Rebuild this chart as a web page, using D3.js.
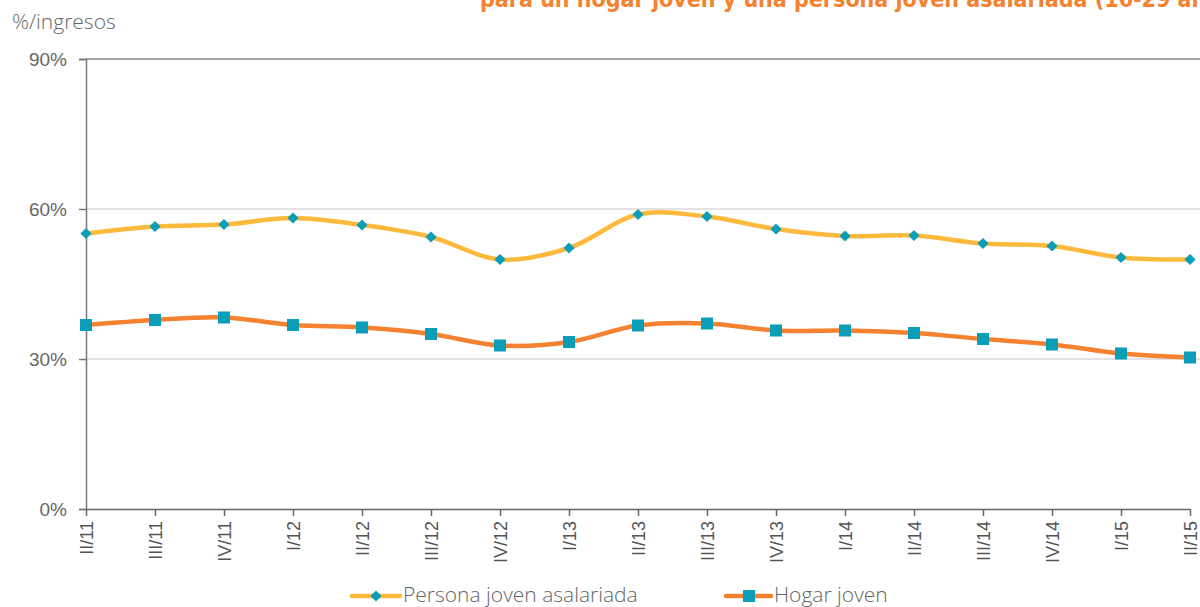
<!DOCTYPE html>
<html>
<head>
<meta charset="utf-8">
<script src="https://cdn.jsdelivr.net/npm/d3@7"></script>
<style>
  body { margin: 0; background: #fff; }
  svg { display: block; font-family: "Open Sans", "DejaVu Sans", sans-serif; font-weight: 300; }
</style>
</head>
<body>
<svg id="chart" width="1200" height="607"></svg>
<script>
// quarters on the x axis
var quarters = ["II/11", "III/11", "IV/11", "I/12", "II/12", "III/12", "IV/12", "I/13",
                "II/13", "III/13", "IV/13", "I/14", "II/14", "III/14", "IV/14", "I/15", "II/15"];

// % of income
var personaJoven = [55.1, 56.5, 56.9, 58.2, 56.8, 54.4, 49.9, 52.2,
                    58.9, 58.5, 56.0, 54.6, 54.7, 53.1, 52.6, 50.3, 49.9];
var hogarJoven = [36.8, 37.8, 38.3, 36.8, 36.3, 35.0, 32.7, 33.4,
                  36.7, 37.1, 35.7, 35.7, 35.2, 34.0, 32.9, 31.1, 30.3];

var yTicks = [0, 30, 60, 90];

var svg = d3.select("#chart");

var x = d3.scalePoint().domain(quarters).range([86, 1190]);
var y = d3.scaleLinear().domain([0, 90]).range([509, 59]);

// title (second line only, the top is cut off)
svg.append("text")
    .attr("x", 480)
    .attr("y", 7)
    .attr("fill", "#F58230")
    .attr("font-family", "DejaVu Sans Condensed")
    .attr("font-weight", "bold")
    .attr("font-size", 23)
    .text("para un hogar joven y una persona joven asalariada (16-29 años)");

svg.append("text")
    .attr("x", 12)
    .attr("y", 29)
    .attr("fill", "#666")
    .attr("font-size", 21)
    .text("%/ingresos");

// gridlines
svg.append("g")
    .selectAll("line")
    .data(yTicks.filter(function(d) { return d > 0; }))
    .enter()
    .append("line")
    .attr("x1", 86)
    .attr("x2", 1200)
    .attr("y1", function(d) { return y(d); })
    .attr("y2", function(d) { return y(d); })
    .attr("stroke", function(d) { return d == 90 ? "#8a8a8a" : "#c8c8c8"; })
    .attr("stroke-width", function(d) { return d == 90 ? 1.5 : 1.2; });

// y axis
var yAxis = svg.append("g")
    .attr("transform", "translate(86,0)")
    .call(d3.axisLeft(y).tickValues(yTicks).tickSize(7).tickPadding(12)
        .tickFormat(function(d) { return d + "%"; }));
yAxis.select(".domain").attr("stroke", "#777").attr("stroke-width", 1.5);
yAxis.selectAll(".tick line").attr("stroke", "#777").attr("stroke-width", 1.5);
yAxis.selectAll("text")
    .attr("font-size", 19)
    .attr("fill", "#666")
    .attr("font-family", null);

// x axis
var xAxis = svg.append("g")
    .attr("transform", "translate(0,509)")
    .call(d3.axisBottom(x).tickSize(7).tickSizeOuter(0));
xAxis.select(".domain").attr("stroke", "#666").attr("stroke-width", 1.5);
xAxis.selectAll(".tick line").attr("stroke", "#666").attr("stroke-width", 1.5);
xAxis.selectAll("text")
    .attr("font-size", 18)
    .attr("fill", "#555")
    .attr("font-family", null)
    .attr("font-weight", 400)
    .attr("text-anchor", "end")
    .attr("transform", "rotate(-90)")
    .attr("x", -12)
    .attr("y", 0)
    .attr("dy", "0.35em");

var line = d3.line()
    .x(function(d, i) { return x(quarters[i]); })
    .y(function(d) { return y(d); })
    .curve(d3.curveCatmullRom);

// Persona joven asalariada
svg.append("path")
    .datum(personaJoven)
    .attr("d", line)
    .attr("fill", "none")
    .attr("stroke", "#FDB93C")
    .attr("stroke-width", 4.5);

// Hogar joven
svg.append("path")
    .datum(hogarJoven)
    .attr("d", line)
    .attr("fill", "none")
    .attr("stroke", "#F58230")
    .attr("stroke-width", 4.5);

var diamond = d3.symbol().type(d3.symbolDiamond2).size(80);

svg.append("g")
    .selectAll("path")
    .data(personaJoven)
    .enter()
    .append("path")
    .attr("d", diamond)
    .attr("transform", function(d, i) { return "translate(" + x(quarters[i]) + "," + y(d) + ")"; })
    .attr("fill", "#0A9EB8");

svg.append("g")
    .selectAll("rect")
    .data(hogarJoven)
    .enter()
    .append("rect")
    .attr("x", function(d, i) { return x(quarters[i]) - 6; })
    .attr("y", function(d) { return y(d) - 6; })
    .attr("width", 12)
    .attr("height", 12)
    .attr("fill", "#0A9EB8");

// legend
var legend = svg.append("g");

legend.append("line")
    .attr("x1", 352).attr("x2", 400).attr("y1", 596).attr("y2", 596)
    .attr("stroke", "#FDB93C").attr("stroke-width", 4.5).attr("stroke-linecap", "round");
legend.append("path")
    .attr("d", diamond)
    .attr("transform", "translate(376,596)")
    .attr("fill", "#0A9EB8");
legend.append("text")
    .attr("x", 403).attr("y", 602)
    .attr("font-size", 21).attr("fill", "#666")
    .text("Persona joven asalariada");

legend.append("line")
    .attr("x1", 726).attr("x2", 771).attr("y1", 596).attr("y2", 596)
    .attr("stroke", "#F58230").attr("stroke-width", 4.5).attr("stroke-linecap", "round");
legend.append("rect")
    .attr("x", 743).attr("y", 590).attr("width", 12).attr("height", 12)
    .attr("fill", "#0A9EB8");
legend.append("text")
    .attr("x", 774).attr("y", 602)
    .attr("font-size", 21).attr("fill", "#666")
    .text("Hogar joven");
</script>
</body>
</html>
